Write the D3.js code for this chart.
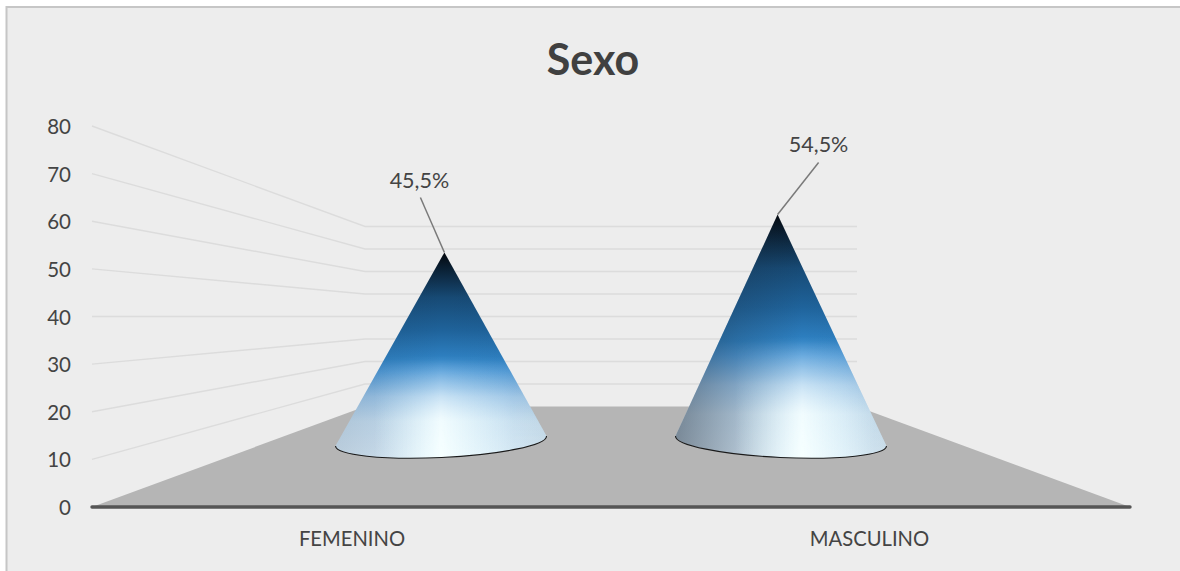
<!DOCTYPE html>
<html><head><meta charset="utf-8">
<script src="https://cdnjs.cloudflare.com/ajax/libs/d3/7.8.5/d3.min.js"></script>
<style>html,body{margin:0;padding:0;background:#fff}svg{display:block}text{font-family:Lato,"Open Sans",sans-serif}</style>
</head><body><svg id="c" width="1180" height="571"></svg>
<script>
const categories = ["FEMENINO", "MASCULINO"];
const values = [45.5, 54.5];
const valueLabels = ["45,5%", "54,5%"];
const ticks = [0, 10, 20, 30, 40, 50, 60, 70, 80];
const title = "Sexo";
const labelOffsets = [[-25, -64], [41, -63]];
const labelLine = [[-24, -55], [41, -52]];
const sideShade = [0.1, 0.34];
const lightX = [0.5, 0.6];

const svg = d3.select("#c");
const W = 1180, H = 571;
const frontY = d3.scaleLinear([0, 80], [507, 126]);
const backY = d3.scaleLinear([0, 80], [406.5, 226.5]);
const frontX = [92, 1130], backX = [365, 857];
const xBand = d3.scalePoint(categories, [441, 781]);
const coneH = d3.scaleLinear([0, 100], [0, 421]);
const baseY = 441, rx = 105.5, ry = 16.5, tilt = 2.7, vanishX = 611;

svg.append("rect").attr("x", 6.5).attr("y", 7).attr("width", W).attr("height", H)
  .attr("fill", "#ededed").attr("stroke", "#c6c6c6").attr("stroke-width", 2);

ticks.slice(1).forEach(t => {
  const grid = d3.line();
  svg.append("path").attr("fill", "none").attr("stroke", "#dcdcdc").attr("stroke-width", 1.4)
    .attr("d", grid([[frontX[0], frontY(t)], [backX[0], backY(t)], [backX[1], backY(t)]]));
});

svg.append("path").attr("fill", "#b5b5b5")
  .attr("d", d3.line()([[frontX[0], frontY(0)], [backX[0], backY(0)], [backX[1], backY(0)], [frontX[1], frontY(0)]]) + "Z");
svg.append("line").attr("x1", frontX[0]).attr("x2", frontX[1]).attr("y1", frontY(0)).attr("y2", frontY(0))
  .attr("stroke", "#555").attr("stroke-width", 3.4).attr("stroke-linecap", "round");

svg.append("g").attr("transform", "translate(71,1)")
  .call(d3.axisLeft(frontY).tickValues(ticks).tickSize(0).tickPadding(0))
  .call(g => g.select(".domain").remove())
  .selectAll("text").attr("font-size", 20.5).attr("fill", "#444").style("font-family", "Lato,sans-serif");

svg.append("g").selectAll("text").data(categories).join("text")
  .attr("x", (d, i) => i === 0 ? 352 : 869.5).attr("y", 546).attr("text-anchor", "middle")
  .attr("font-size", 20.2).attr("fill", "#444").text(d => d);

svg.append("text").attr("x", 593).attr("y", 75).attr("text-anchor", "middle")
  .attr("font-size", 43).attr("font-weight", 700).attr("fill", "#404040").text(title);

const defs = svg.append("defs");
const vert = [[0, "#03070d"], [0.08, "#0a2034"], [0.22, "#174a75"], [0.38, "#1f639b"], [0.52, "#2f82c4"],
  [0.58, "#4f9ad8"], [0.7, "#9cc6ea"], [0.82, "#c6dff3"], [1, "#d6e9f8"]];
const fade = defs.append("linearGradient").attr("id", "fade").attr("x1", 0).attr("y1", 0).attr("x2", 0).attr("y2", 1);
[[0.5, 0], [0.66, 0.35], [0.82, 0.9], [1, 1]].forEach(s =>
  fade.append("stop").attr("offset", s[0]).attr("stop-color", "#fff").attr("stop-opacity", s[1]));
values.forEach((v, i) => {
  const g = defs.append("linearGradient").attr("id", "v" + i).attr("x1", 0).attr("y1", 0).attr("x2", 0).attr("y2", 1);
  vert.forEach(s => g.append("stop").attr("offset", s[0]).attr("stop-color", s[1]));
  const h = defs.append("linearGradient").attr("id", "h" + i);
  h.append("stop").attr("offset", 0).attr("stop-color", "#1c2530").attr("stop-opacity", sideShade[i] * 1.4);
  h.append("stop").attr("offset", 0.3).attr("stop-color", "#1c2530").attr("stop-opacity", sideShade[i] * 0.6);
  h.append("stop").attr("offset", lightX[i]).attr("stop-color", "#1c2530").attr("stop-opacity", 0);
  h.append("stop").attr("offset", 0.8).attr("stop-color", "#1c2530").attr("stop-opacity", 0.03);
  h.append("stop").attr("offset", 1).attr("stop-color", "#1c2530").attr("stop-opacity", 0.1);
  const w = defs.append("linearGradient").attr("id", "w" + i);
  w.append("stop").attr("offset", lightX[i] - 0.32).attr("stop-color", "#eafdff").attr("stop-opacity", 0);
  w.append("stop").attr("offset", lightX[i]).attr("stop-color", "#f6ffff").attr("stop-opacity", 1);
  w.append("stop").attr("offset", lightX[i] + 0.34).attr("stop-color", "#eafdff").attr("stop-opacity", 0.25);
  const m = defs.append("mask").attr("id", "m" + i).attr("maskContentUnits", "objectBoundingBox");
  m.append("rect").attr("width", 1).attr("height", 1).attr("fill", "url(#fade)");
});

categories.forEach((c, i) => {
  const cx = xBand(c), sign = i === 0 ? -1 : 1;
  const tipX = cx + (vanishX - cx) * 0.02, tipY = baseY + 3 - coneH(values[i]);
  const dy = rx * Math.sin(tilt * Math.PI / 180) * sign;
  const lx = cx - rx, ly = baseY - dy, ax = cx + rx, ay = baseY + dy;
  const arc = `M${lx},${ly}A${rx},${ry} ${sign * tilt} 0 0 ${ax},${ay}`;
  const d = `M${tipX},${tipY}L${lx},${ly}A${rx},${ry} ${sign * tilt} 0 0 ${ax},${ay}Z`;
  ["v", "h"].forEach(k => svg.append("path").attr("d", d).attr("fill", `url(#${k}${i})`));
  svg.append("path").attr("d", d).attr("fill", `url(#w${i})`).attr("mask", `url(#m${i})`);
  svg.append("path").attr("d", arc).attr("fill", "none").attr("stroke", "#1a1a1a").attr("stroke-width", 1.1);
  svg.append("line").attr("x1", tipX).attr("y1", tipY)
    .attr("x2", tipX + labelLine[i][0]).attr("y2", tipY + labelLine[i][1])
    .attr("stroke", "#7a7a7a").attr("stroke-width", 1.5);
  svg.append("text").attr("x", tipX + labelOffsets[i][0]).attr("y", tipY + labelOffsets[i][1])
    .attr("text-anchor", "middle").attr("font-size", 21.5).attr("fill", "#444").text(valueLabels[i]);
});
</script></body></html>
